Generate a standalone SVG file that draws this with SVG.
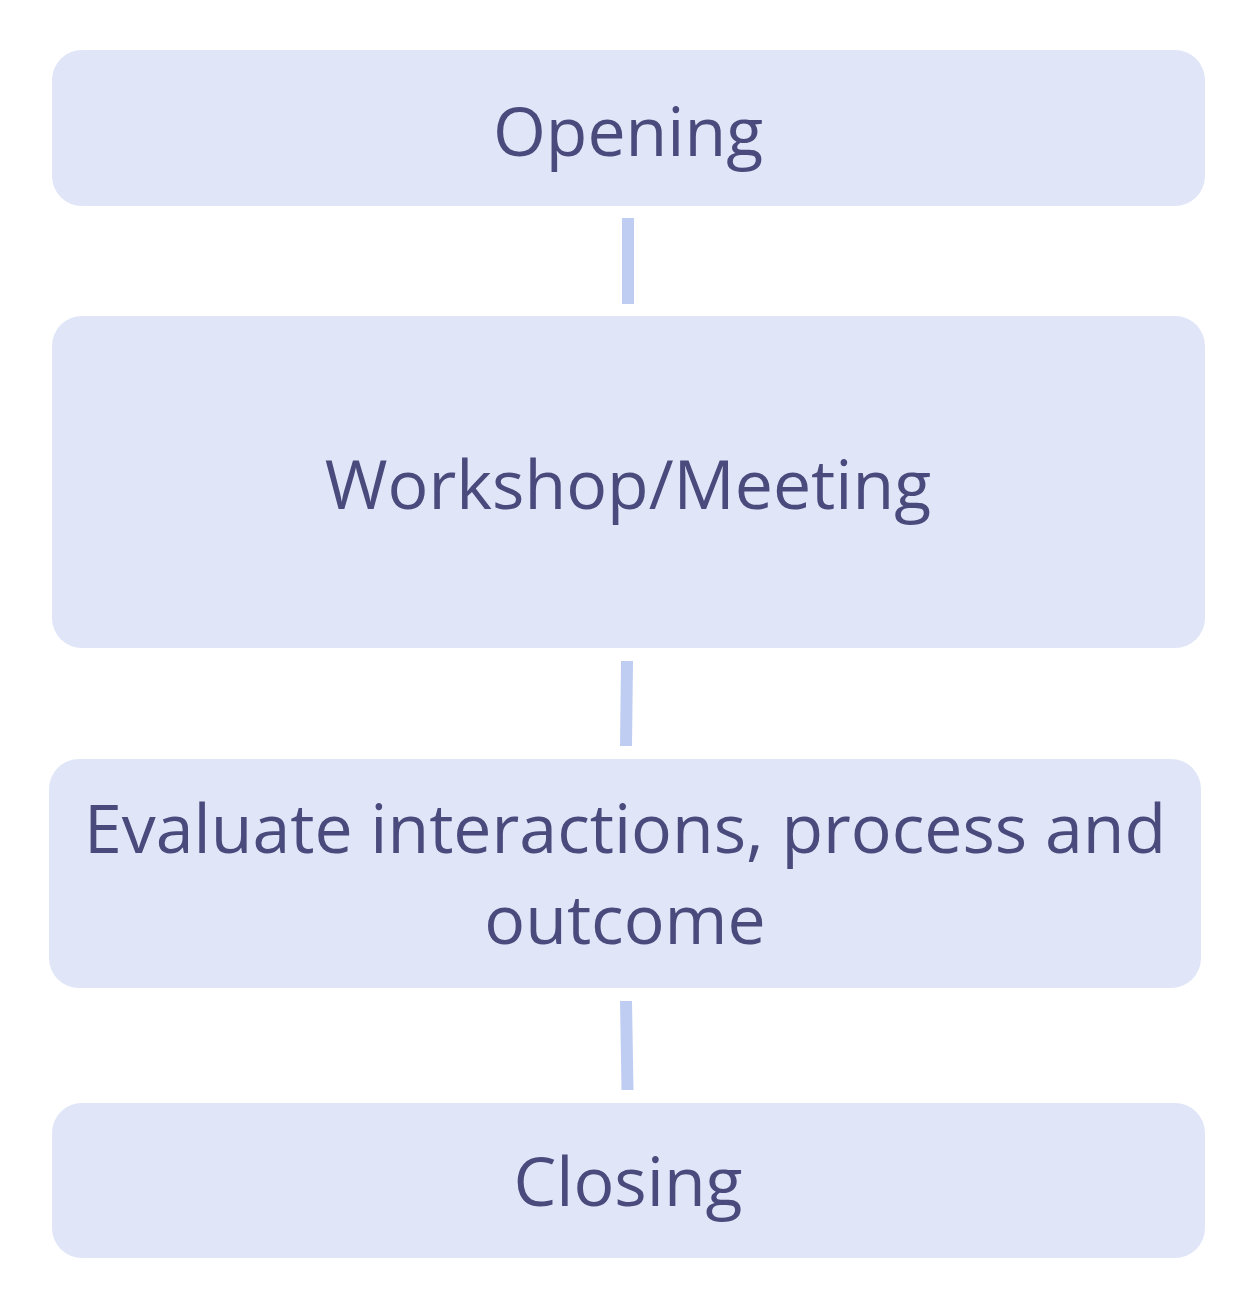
<svg xmlns="http://www.w3.org/2000/svg" width="1250" height="1310" viewBox="0 0 1250 1310">
<style>
.box{fill:#e0e6f8;}
.lbl{font-family:"Open Sans","Noto Sans",sans-serif;font-size:68px;fill:#4a4a7c;text-anchor:middle;}
.edge{stroke:#c0cdf3;stroke-width:12;fill:none;}
</style>
<rect width="1250" height="1310" fill="#ffffff"/>
<g id="connectors">
<line class="edge" x1="628" y1="218" x2="628" y2="304"/>
<line class="edge" x1="627" y1="661" x2="626" y2="746"/>
<line class="edge" x1="626" y1="1001" x2="627.5" y2="1090"/>
</g>
<g id="opening">
<rect class="box" x="52" y="50" width="1153" height="156" rx="30"/>
<text class="lbl" x="628" y="156">Opening</text>
</g>
<g id="workshop">
<rect class="box" x="52" y="316" width="1153" height="332" rx="30"/>
<text class="lbl" x="628" y="509">Workshop/Meeting</text>
</g>
<g id="evaluate">
<rect class="box" x="49" y="759" width="1152" height="229" rx="30"/>
<text class="lbl" x="625" y="853">Evaluate interactions, process and</text>
<text class="lbl" x="625" y="944">outcome</text>
</g>
<g id="closing">
<rect class="box" x="52" y="1103" width="1153" height="155" rx="30"/>
<text class="lbl" x="628" y="1206">Closing</text>
</g>
</svg>
